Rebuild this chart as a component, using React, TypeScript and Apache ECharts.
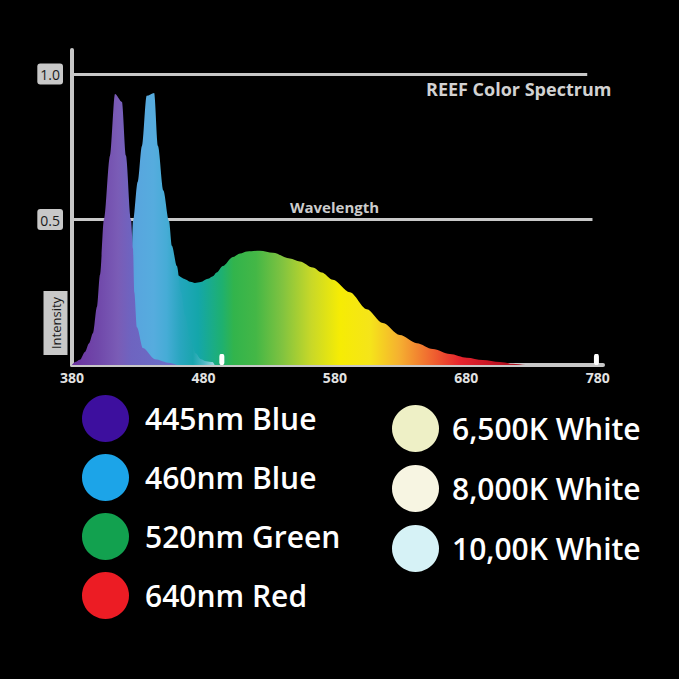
import React, { useEffect, useRef } from "react";
import * as echarts from "echarts";

// ---- data ----
const xTickLabels = [380, 480, 580, 680, 780];
const yTickLabels = [0.5, 1.0];

// violet LED peak [wavelength nm, relative intensity]
const violetPeak: [number, number][] = [
  [380, 0], [382.3, 0.01], [386, 0.018], [389.9, 0.045], [393, 0.075], [396, 0.11],
  [399, 0.2], [401.3, 0.31], [404.3, 0.5], [409, 0.72], [412.7, 0.931],
  [418, 0.904], [421, 0.72], [424.9, 0.5], [426.4, 0.4], [427.4, 0.25],
  [429.4, 0.13], [434, 0.058], [443, 0.02], [454.5, 0.007], [460, 0],
];

// blue LED peak
const bluePeak: [number, number][] = [
  [412, 0], [418, 0.03], [422, 0.1], [425, 0.3], [426.4, 0.495], [430, 0.63],
  [433.2, 0.753], [436.8, 0.925], [442.5, 0.935], [445.4, 0.753], [449.5, 0.6],
  [453.8, 0.495], [456, 0.41], [459.8, 0.34], [463, 0.25], [466, 0.17],
  [470, 0.09], [474, 0.04], [478, 0.02], [482, 0.013], [487, 0.01], [488.5, 0],
];

// broad white-phosphor spectrum envelope
const whiteSpectrum: [number, number][] = [
  [380, 0], [395, 0.01], [405, 0.05], [415, 0.15], [425, 0.22], [435, 0.27],
  [445, 0.3], [455, 0.312], [460, 0.308], [466, 0.295], [470, 0.286],
  [473.5, 0.282], [478, 0.285], [483.4, 0.296], [487.2, 0.305], [490, 0.318],
  [494.8, 0.34], [502.4, 0.371], [508, 0.383], [513.1, 0.39], [523, 0.393],
  [532.9, 0.386], [545.8, 0.366], [553.4, 0.356], [563.3, 0.335], [570, 0.318],
  [578.5, 0.293], [591.4, 0.25], [604.3, 0.192], [616.5, 0.144], [629.4, 0.103],
  [642.4, 0.075], [654.5, 0.055], [667.5, 0.038], [680.4, 0.025], [692.5, 0.017],
  [705.5, 0.01], [715.4, 0.004], [725, 0], [780, 0],
];

// small white markers on the baseline
const markerWavelengths = [494, 779];

const legendLeftNames = ["445nm Blue", "460nm Blue", "520nm Green", "640nm Red"];
const legendLeftColors = ["#3d0f9e", "#1ca4e8", "#12a14f", "#ec1c24"];
const legendRightNames = ["6,500K White", "8,000K White", "10,00K White"];
const legendRightColors = ["#eef0c6", "#f7f5e2", "#d6f2f6"];

const FONT = "'Open Sans', 'Noto Sans', sans-serif";

function spectralGradient(data: [number, number][], stops: [number, string][]) {
  const lo = data[0][0];
  const hi = data[data.length - 1][0];
  return new echarts.graphic.LinearGradient(
    0, 0, 1, 0,
    stops.map(([w, c]) => ({
      offset: Math.min(1, Math.max(0, (w - lo) / (hi - lo))),
      color: c,
    }))
  );
}

export default function App() {
  const ref = useRef<HTMLDivElement>(null);

  useEffect(() => {
    if (!ref.current) return;
    const chart = echarts.init(ref.current, null, { renderer: "svg" });

    const areaSeries = (name: string, data: [number, number][], color: any) => ({
      name,
      type: "line",
      data,
      showSymbol: false,
      smooth: 0.3,
      smoothMonotone: "x",
      lineStyle: { width: 0, opacity: 0 },
      areaStyle: { color, opacity: 1 },
      silent: true,
      z: 2,
    });

    const legendSeries = (names: string[], colors: string[]) =>
      names.map((n, i) => ({
        name: n,
        type: "scatter",
        data: [],
        itemStyle: { color: colors[i], opacity: 1 },
      }));

    const legendText = {
      color: "#ffffff",
      fontSize: 30,
      fontWeight: 600,
      fontFamily: FONT,
    };

    const option: any = {
      animation: false,
      backgroundColor: "#000000",
      title: [
        {
          text: "REEF Color Spectrum",
          left: 426,
          top: 80,
          padding: 0,
          textStyle: { color: "#d2d2d2", fontSize: 18, fontWeight: "bold", fontFamily: FONT },
        },
        {
          text: "Wavelength",
          left: 290,
          top: 199,
          padding: 0,
          textStyle: { color: "#cccccc", fontSize: 15, fontWeight: "bold", fontFamily: FONT },
        },
      ],
      grid: { left: 72, right: 76, top: 50, bottom: 314 },
      xAxis: {
        type: "value",
        min: 380,
        max: 784,
        interval: 100,
        axisLine: { show: true, lineStyle: { color: "#c8c8c8", width: 4 } },
        axisTick: { show: false },
        splitLine: { show: false },
        axisLabel: {
          margin: 5,
          color: "#e2e2e2",
          fontSize: 14,
          fontWeight: "bold",
          fontFamily: FONT,
          formatter: (v: number) => (xTickLabels.includes(v) ? String(v) : ""),
        },
      },
      yAxis: {
        type: "value",
        min: 0,
        max: 1.0825,
        interval: 0.5,
        axisLine: { show: true, lineStyle: { color: "#c8c8c8", width: 4 } },
        axisTick: { show: false },
        splitLine: { show: false },
        axisLabel: {
          margin: 9,
          formatter: (v: number) => {
            const hit = yTickLabels.find((t) => Math.abs(t - v) < 1e-6);
            return hit !== undefined ? `{b|${hit.toFixed(1)}}` : "";
          },
          rich: {
            b: {
              backgroundColor: "#c8c8c8",
              color: "#1a1a1a",
              fontSize: 14,
              fontFamily: FONT,
              padding: [4, 3, 3, 3],
              borderRadius: 3,
            },
          },
        },
      },
      legend: [
        {
          orient: "vertical",
          icon: "circle",
          itemWidth: 47,
          itemHeight: 47,
          selectedMode: false,
          padding: 0,
          left: 82,
          top: 395,
          itemGap: 12,
          data: legendLeftNames,
          textStyle: { ...legendText, padding: [0, 0, 0, 11] },
        },
        {
          orient: "vertical",
          icon: "circle",
          itemWidth: 47,
          itemHeight: 47,
          selectedMode: false,
          padding: 0,
          left: 392,
          top: 405,
          itemGap: 13,
          data: legendRightNames,
          textStyle: { ...legendText, padding: [0, 0, 0, 8] },
        },
      ],
      graphic: [
        {
          type: "text",
          x: 55.5,
          y: 323,
          rotation: Math.PI / 2,
          silent: true,
          style: {
            text: "Intensity",
            fill: "#1a1a1a",
            font: `13px ${FONT}`,
            backgroundColor: "#c8c8c8",
            padding: [6, 6, 5, 6],
            align: "center",
            verticalAlign: "middle",
          },
        },
      ],
      series: [
        {
          ...areaSeries(
            "Spectrum",
            whiteSpectrum,
            spectralGradient(whiteSpectrum, [
              [380, "#6a38a4"], [420, "#6a5cc0"], [445, "#4ea6dc"], [463, "#22a6bc"],
              [476, "#14a6aa"], [494, "#1eb070"], [503, "#32b44c"], [520, "#44b746"],
              [540, "#80c340"], [562, "#c8d828"], [584, "#f6ec04"], [607, "#f5e41a"],
              [629, "#f5b030"], [652, "#f06a30"], [675, "#e6252e"], [700, "#c41424"],
              [780, "#500008"],
            ])
          ),
          markLine: {
            silent: true,
            z: 1,
            symbol: ["none", "none"],
            label: { show: false },
            lineStyle: { color: "#c8c8c8", width: 3, type: "solid" },
            data: [
              [{ coord: [380, 1.0] }, { coord: [772, 1.0] }],
              [{ coord: [380, 0.5] }, { coord: [776, 0.5] }],
            ],
          },
        },
        areaSeries(
          "Blue peak",
          bluePeak,
          spectralGradient(bluePeak, [
            [412, "#5a90d8"], [430, "#58a6de"], [442, "#56acde"], [452, "#46acd6"],
            [462, "#2aa6c0"], [472, "#1aa5ae"], [480, "#4cb8c4"], [488.5, "#9fd8e0"],
          ])
        ),
        areaSeries(
          "Violet peak",
          violetPeak,
          spectralGradient(violetPeak, [
            [380, "#6b33a0"], [400, "#7048aa"], [415, "#7a5cb6"], [425, "#6e64c0"],
            [460, "#6a70c8"],
          ])
        ),
        {
          name: "Markers",
          type: "scatter",
          silent: true,
          symbol: "roundRect",
          symbolSize: [5, 11],
          symbolOffset: [0, "-50%"],
          itemStyle: { color: "#ffffff", opacity: 1 },
          data: markerWavelengths.map((w) => [w, 0]),
          z: 4,
        },
        ...legendSeries(legendLeftNames, legendLeftColors),
        ...legendSeries(legendRightNames, legendRightColors),
      ],
    };

    chart.setOption(option);
    return () => chart.dispose();
  }, []);

  return (
    <div
      ref={ref}
      style={{
        position: "fixed",
        left: 0,
        top: 0,
        width: 679,
        height: 679,
        background: "#000",
      }}
    />
  );
}
